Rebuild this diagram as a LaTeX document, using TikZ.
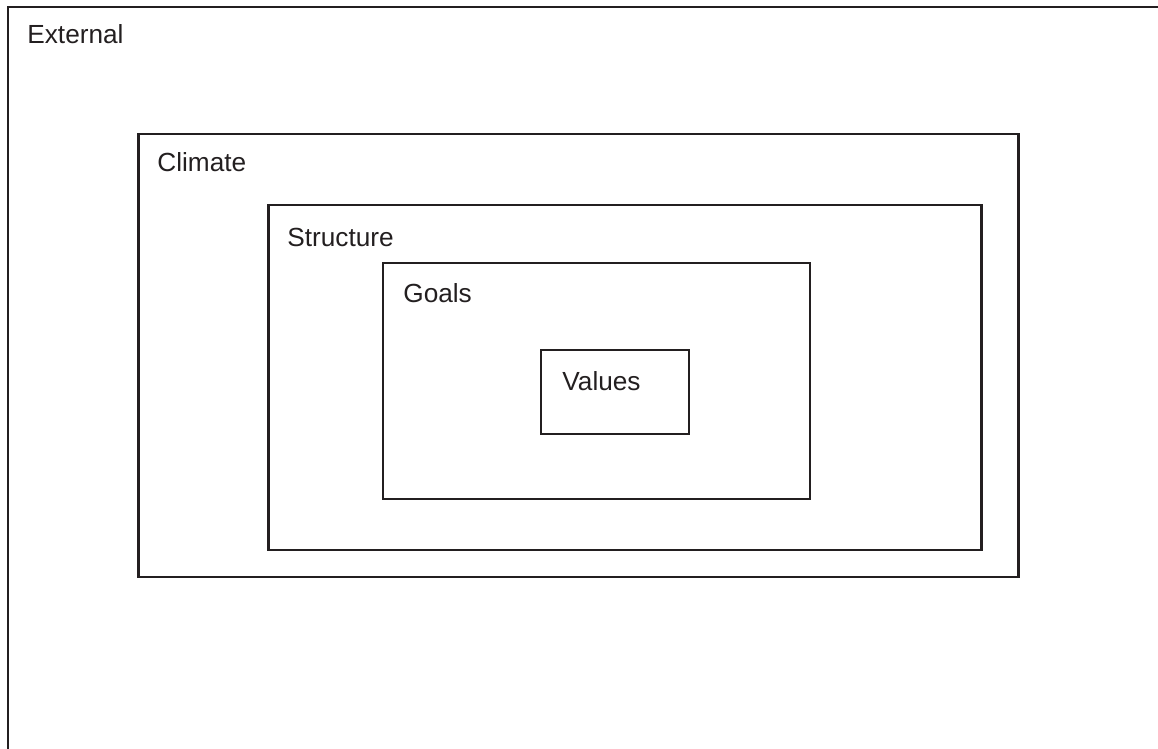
\documentclass[tikz,border=0pt]{standalone}
\usepackage{fontspec}
\setmainfont{Liberation Sans}
\definecolor{ink}{HTML}{231F20}
\begin{document}
\begin{tikzpicture}[x=0.5pt,y=-0.5pt,
  frame/.style={draw=ink,line width=1.15pt},
  lbl/.style={anchor=base west,inner sep=0pt,text=ink,font=\fontsize{13.1}{15}\selectfont}]
\useasboundingbox (0,0) rectangle (1158,749);
\begin{scope}
\clip (0,0) rectangle (1158,749);
\draw[frame] (8,7) rectangle (1180,770);
\end{scope}
\draw[frame] (138.5,134) rectangle (1018.5,577);
\draw[frame] (268.5,205) rectangle (981.5,550);
\draw[frame] (383,263) rectangle (810,499);
\draw[frame] (541,350) rectangle (689,434);
\node[lbl] (ext) at (27,44) {External};
\node[lbl] (cli) at (157,172) {Climate};
\node[lbl] (str) at (287,247) {Structure};
\node[lbl] (goa) at (403,302) {Goals};
\node[lbl] (val) at (562,390) {Values};
\end{tikzpicture}
\end{document}
